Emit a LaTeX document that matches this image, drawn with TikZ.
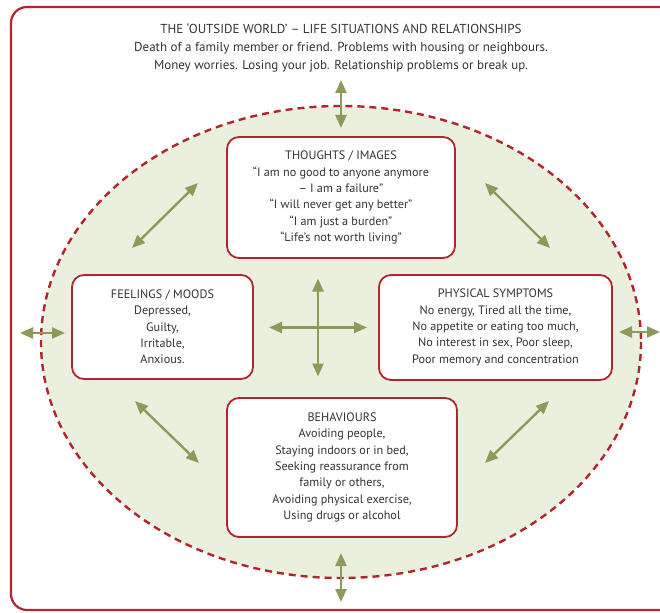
\documentclass[tikz,border=0pt]{standalone}
\usepackage{fontspec}
\setmainfont{PT Sans}
\usetikzlibrary{positioning, arrows.meta, calc}
\definecolor{wine}{HTML}{B0262D}
\definecolor{olive}{HTML}{8C9B5A}
\definecolor{sage}{HTML}{EBF0DE}
\definecolor{ink}{HTML}{333333}

\tikzset{
  cbox/.style={draw=wine, line width=1.8pt, rounded corners=12pt, fill=white,
    text=ink, align=center, inner sep=0pt, font=\fontsize{12.2}{16.3}\selectfont},
  link/.style={olive, line width=2.4pt,
    {Triangle[length=13pt,width=11pt]}-{Triangle[length=13pt,width=11pt]}},
  spoke/.style={olive, line width=2.4pt, -{Triangle[length=13pt,width=11pt]}},
}

\begin{document}
\begin{tikzpicture}[x=1pt, y=-1pt]
  \useasboundingbox (0,0) rectangle (660,612);
  % Rahmen: die Aussenwelt
  \draw[wine, line width=2.2pt, rounded corners=16pt]
    (660,7) -- (11,7) -- (11,610) -- (660,610);
  \node[text=ink, align=center, font=\fontsize{13}{18}\selectfont] (world) at (341,48)
    {THE `OUTSIDE WORLD' -- LIFE SITUATIONS AND RELATIONSHIPS\\
     Death of a family member or friend. Problems with housing or neighbours.\\
     Money worries. Losing your job. Relationship problems or break up.};
  % Innenwelt: gestrichelte Ellipse
  \draw[wine, line width=2.4pt, fill=sage, dash pattern=on 7pt off 5pt]
    (341,342) ellipse [x radius=300, y radius=236];
  % Die vier Bereiche
  \node[cbox, minimum width=228, minimum height=121] (thoughts) at (341,197.5)
    {THOUGHTS / IMAGES\\
     ``I am no good to anyone anymore\\
     -- I am a failure''\\
     ``I will never get any better''\\
     ``I am just a burden''\\
     ``Life's not worth living''};
  \node[cbox, minimum width=181, minimum height=104] (feelings) at (162.5,327)
    {FEELINGS / MOODS\\
     Depressed,\\
     Guilty,\\
     Irritable,\\
     Anxious.};
  \node[cbox, minimum width=233, minimum height=105] (physical) at (495.5,327.5)
    {PHYSICAL SYMPTOMS\\
     No energy, Tired all the time,\\
     No appetite or eating too much,\\
     No interest in sex, Poor sleep,\\
     Poor memory and concentration};
  \node[cbox, minimum width=230, minimum height=139] (behaviours) at (342,467.5)
    {BEHAVIOURS\\
     Avoiding people,\\
     Staying indoors or in bed,\\
     Seeking reassurance from\\
     family or others,\\
     Avoiding physical exercise,\\
     Using drugs or alcohol};
  % Pfeile zwischen Aussen- und Innenwelt
  \coordinate (worldN) at (341,80);   \coordinate (ringN) at (341,128);
  \coordinate (worldS) at (341,602);  \coordinate (ringS) at (341,553);
  \coordinate (worldW) at (20,333);   \coordinate (ringW) at (65,333);
  \coordinate (worldE) at (660,332);  \coordinate (ringE) at (619,332);
  \draw[link] (worldN) -- (ringN);
  \draw[link] (ringS) -- (worldS);
  \draw[link] (worldW) -- (ringW);
  \draw[link] (ringE) -- (worldE);
  % Diagonale Pfeile
  \coordinate (nwA) at (132,248);  \coordinate (nwB) at (198,183);
  \coordinate (neA) at (485,183);  \coordinate (neB) at (550,248);
  \coordinate (swA) at (135,401);  \coordinate (swB) at (199,463);
  \coordinate (seA) at (485,463);  \coordinate (seB) at (549,401);
  \foreach \a/\b in {nwA/nwB, neA/neB, swA/swB, seA/seB}
    \draw[link] (\a) -- (\b);
  % Kreuz in der Mitte
  \coordinate (hub) at (318,327.5);
  \foreach \dx/\dy in {0/-49, 0/49, -49/0, 49/0}
    \draw[spoke] (hub) -- ++(\dx,\dy);
\end{tikzpicture}
\end{document}
